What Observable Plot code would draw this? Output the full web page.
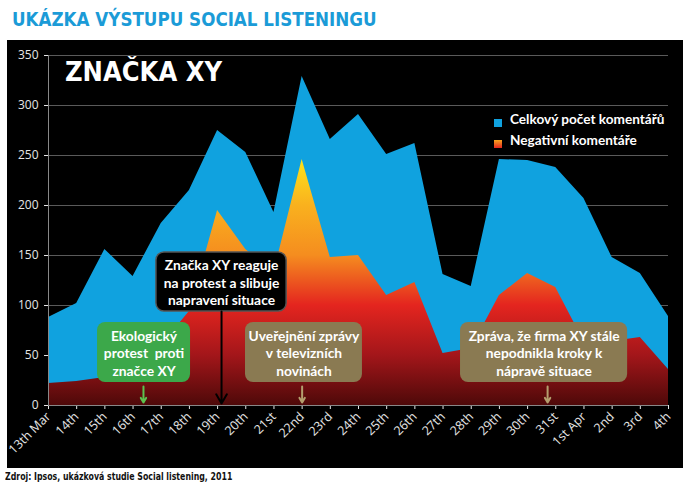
<!DOCTYPE html>
<html>
<head>
<meta charset="utf-8">
<script src="https://cdn.jsdelivr.net/npm/d3@7"></script>
<script src="https://cdn.jsdelivr.net/npm/@observablehq/plot@0.6"></script>
<style>
  body { margin:0; background:#fff; width:688px; height:490px; position:relative; overflow:hidden; }
  #title { position:absolute; left:12px; top:9px; font-family:"DejaVu Sans Condensed","DejaVu Sans",sans-serif; font-stretch:condensed; font-weight:bold; font-size:18.6px; color:#1b9bd7; white-space:nowrap; }
  #chart { position:absolute; left:7px; top:40px; width:676px; height:428px; background:#000; }
  #brand { position:absolute; left:58px; top:16px; font-family:"DejaVu Sans Condensed","DejaVu Sans",sans-serif; font-stretch:condensed; font-weight:bold; font-size:27px; color:#fff; white-space:nowrap; }
  .leg { position:absolute; font-family:Lato,sans-serif; font-weight:bold; font-size:13.6px; color:#fff; white-space:nowrap; }
  .sw { position:absolute; width:8px; height:8px; }
  #caption { position:absolute; left:5px; top:471px; font-family:"DejaVu Sans Condensed","DejaVu Sans",sans-serif; font-stretch:condensed; font-weight:bold; font-size:10px; color:#111; white-space:nowrap; transform:scaleX(0.87); transform-origin:0 0; }
</style>
</head>
<body>
<div id="title">UKÁZKA VÝSTUPU SOCIAL LISTENINGU</div>
<div id="chart">
  <div id="brand">ZNAČKA XY</div>
</div>
<div id="caption">Zdroj: Ipsos, ukázková studie Social listening, 2011</div>
<script>
// ---- data ----
const dates = ["13th Mar","14th","15th","16th","17th","18th","19th","20th","21st","22nd","23rd","24th","25th","26th","27th","28th","29th","30th","31st","1st Apr","2nd","3rd","4th"];
const total = [88,102,156,129,182,215,275,253,193,329,266,291,251,262,131,119,246,245,238,207,148,132,89];
const negative = [22,24,28,38,60,94,195,156,133,246,148,150,110,123,52,57,110,132,118,64,64,68,36];
const yTicks = [0,50,100,150,200,250,300,350];
const seriesNames = ["Celkový počet komentářů","Negativní komentáře"];
const noteTexts = [
  "Ekologický\nprotest  proti\nznačce XY",
  "Značka XY reaguje\nna protest a slibuje\nnapravení situace",
  "Uveřejnění zprávy\nv televizních\nnovinách",
  "Zpráva, že firma XY stále\nnepodnikla kroky k\nnápravě situace"
];
const noteAnchors = [3.37, 6.14, 9.0, 17.71]; // position on the date axis (index)

// ---- layout of annotation boxes (in scale units) ----
const boxes = [
  {x1:1.74, x2:5.04, y1:23, y2:83, fill:"#3ca84a", stroke:"none", arrow:"#5cc24f", ay1:19, ay2:3},
  {x1:3.83, x2:8.45, y1:94, y2:153, fill:"#000", stroke:"#555", arrow:"#000", ay1:94, ay2:2},
  {x1:6.99, x2:11.14, y1:23, y2:83, fill:"#8a7a52", stroke:"none", arrow:"#b49e6e", ay1:19, ay2:3},
  {x1:14.62, x2:20.55, y1:23, y2:83, fill:"#8a7a52", stroke:"none", arrow:"#b49e6e", ay1:19, ay2:3}
];
const notes = noteTexts.map((t, i) => ({text: t, ax: noteAnchors[i], ...boxes[i]}));

const rows = dates.map((d, i) => ({i, date: d, total: total[i], negative: negative[i]}));

const plot = Plot.plot({
  width: 676,
  height: 428,
  marginLeft: 41,
  marginRight: 15,
  marginTop: 15,
  marginBottom: 63,
  style: {background: "transparent", color: "#e6e6e6", fontSize: "12px", fontFamily: "Open Sans, sans-serif", overflow: "visible"},
  color: {type: "identity"},
  x: {domain: [0, dates.length - 1], ticks: d3.range(dates.length), tickFormat: i => dates[i], tickRotate: -45, tickSize: 4, tickPadding: 5, label: null},
  y: {domain: [0, 350], ticks: yTicks, tickSize: 4, tickPadding: 6, label: null},
  marks: [
    Plot.ruleY(yTicks.slice(1), {stroke: "#5a5a5a", strokeWidth: 1}),
    Plot.areaY(rows, {x: "i", y: "total", fill: "#10a2df"}),
    Plot.areaY(rows, {x: "i", y: "negative", fill: "url(#negGrad)"}),
    Plot.ruleX([0], {stroke: "#888"}),
    Plot.ruleY([0], {stroke: "#888"}),
    Plot.rect(notes, {x1: "x1", x2: "x2", y1: "y1", y2: "y2", fill: "fill", stroke: "stroke", strokeWidth: 1.5, rx: 8}),
    Plot.text(notes, {x: d => (d.x1 + d.x2) / 2, y: d => (d.y1 + d.y2) / 2, text: "text", fill: "#fff", fontSize: 13.8, fontWeight: "bold", fontFamily: "Lato, sans-serif", lineHeight: 1.28}),
    Plot.arrow(notes, {x1: "ax", x2: "ax", y1: "ay1", y2: "ay2", stroke: "arrow", strokeWidth: 2, headLength: 8})
  ]
});

// slightly larger x tick labels
d3.select(plot).selectAll('[aria-label="x-axis tick label"] text, [aria-label="x-axis"] text').attr("font-size", 12.5);

// gradient for the negative area, tied to the y scale
const ys = plot.scale("y");
const y0 = ys.apply(0), y250 = ys.apply(250);
const svg = d3.select(plot);
const defs = svg.insert("defs", ":first-child");
const grad = defs.append("linearGradient").attr("id", "negGrad")
  .attr("gradientUnits", "userSpaceOnUse").attr("x1", 0).attr("x2", 0).attr("y1", y0).attr("y2", y250);
[[0, "#4e0909"], [0.2, "#a3161a"], [0.4, "#e4251f"], [0.6, "#f58d1f"], [0.8, "#f9b11e"], [1, "#fee81a"]]
  .forEach(([o, c]) => grad.append("stop").attr("offset", o).attr("stop-color", c));

plot.style.position = "absolute";
plot.style.left = "0px";
plot.style.top = "0px";
plot.style.overflow = "visible";
const chart = document.getElementById("chart");
chart.insertBefore(plot, chart.firstChild);

// legend
const legGrad = "linear-gradient(#f9a51e, #e4251f)";
const legItems = [
  {name: seriesNames[0], bg: "#10a2df", top: 77},
  {name: seriesNames[1], bg: legGrad, top: 98}
];
legItems.forEach(it => {
  const sw = document.createElement("div");
  sw.className = "sw";
  sw.style.left = "487px"; sw.style.top = (it.top + 2) + "px";
  sw.style.background = it.bg;
  chart.appendChild(sw);
  const t = document.createElement("div");
  t.className = "leg";
  t.style.left = "503px"; t.style.top = (it.top - 6) + "px";
  t.textContent = it.name;
  chart.appendChild(t);
});
</script>
</body>
</html>
